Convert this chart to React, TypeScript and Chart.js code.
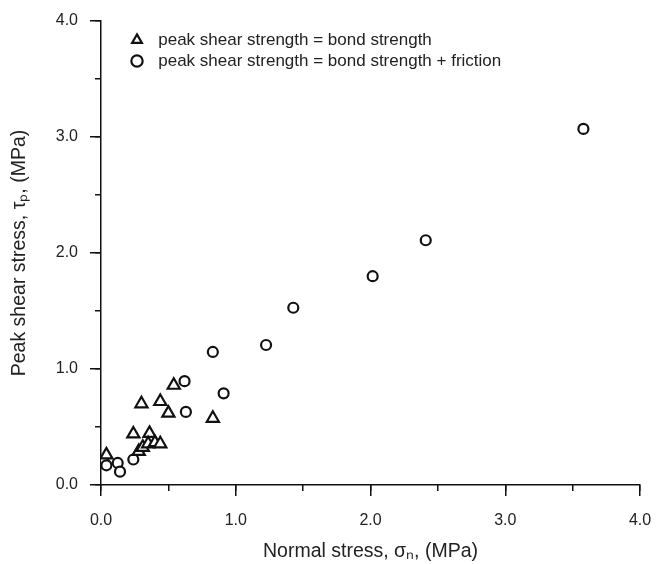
import React, { useEffect, useRef } from 'react';
import { Chart, registerables } from 'chart.js';

Chart.register(...registerables);

// Series: peak shear strength = bond strength (triangles)
const bondX = [0.04, 0.24, 0.36, 0.28, 0.31, 0.35, 0.40, 0.44, 0.30, 0.44, 0.50, 0.54, 0.83];
const bondY = [0.26, 0.44, 0.445, 0.29, 0.325, 0.355, 0.365, 0.355, 0.70, 0.72, 0.62, 0.86, 0.575];

// Series: peak shear strength = bond strength + friction (circles)
const fricX = [0.02, 0.04, 0.124, 0.141, 0.24, 0.63, 0.62, 0.91, 0.83, 1.225, 1.427, 2.016, 2.41, 3.58];
const fricY = [0.2, 0.17, 0.19, 0.115, 0.22, 0.63, 0.895, 0.79, 1.147, 1.207, 1.528, 1.80, 2.11, 3.07];

const seriesLabels = [
  'peak shear strength = bond strength',
  'peak shear strength = bond strength + friction',
];
const xTitle = 'Normal stress, σₙ, (MPa)';
const yTitle = 'Peak shear stress, τₚ, (MPa)';
const axisMin = 0;
const axisMax = 4;
const majorStep = 1;
const minorStep = 0.5;

const FONT = "'Liberation Sans', Arial, Helvetica, sans-serif";
const INK = '#111';
const TEXT = '#222';

export default function App() {
  const ref = useRef<HTMLCanvasElement | null>(null);

  useEffect(() => {
    if (!ref.current) return;
    const toPts = (xs: number[], ys: number[]) => xs.map((x, i) => ({ x, y: ys[i] }));

    const legendPlacer = {
      id: 'legendPlacer',
      afterLayout(chart: any) {
        const lg = chart.legend;
        if (!lg) return;
        const w = lg.width;
        const h = lg.height;
        lg.left = chart.chartArea.left + 24;
        lg.right = lg.left + w;
        lg.top = chart.chartArea.top + 6.5;
        lg.bottom = lg.top + h;
      },
    };

    const chart = new Chart(ref.current, {
      type: 'scatter',
      data: {
        datasets: [
          {
            label: seriesLabels[0],
            data: toPts(bondX, bondY),
            pointStyle: 'triangle',
            pointRadius: 7,
            pointBorderWidth: 2.2,
            borderWidth: 2.2,
            backgroundColor: '#fff',
            borderColor: INK,
            xAxisID: 'x',
            yAxisID: 'y',
          },
          {
            label: seriesLabels[1],
            data: toPts(fricX, fricY),
            pointStyle: 'circle',
            pointRadius: 5,
            pointBorderWidth: 2.2,
            borderWidth: 2.2,
            backgroundColor: '#fff',
            borderColor: INK,
            xAxisID: 'x',
            yAxisID: 'y',
          },
        ],
      },
      options: {
        animation: false,
        responsive: false,
        layout: { padding: { top: 21, right: 17, left: 0, bottom: 0 } },
        plugins: {
          tooltip: { enabled: false },
          legend: {
            position: 'chartArea',
            align: 'start',
            labels: {
              usePointStyle: true,
              boxWidth: 16,
              boxHeight: 8,
              padding: 4,
              color: TEXT,
              font: { family: FONT, size: 17 },
              generateLabels(chart: any) {
                const items = Chart.defaults.plugins.legend.labels.generateLabels(chart);
                return items.map((it: any) => ({ ...it, text: ' ' + it.text }));
              },
            },
          },
        },
        scales: {
          x: {
            type: 'linear',
            position: 'bottom',
            min: axisMin,
            max: axisMax,
            afterFit(scale: any) {
              scale.height = 79;
              scale.paddingLeft = 0;
              scale.paddingRight = 0;
            },
            ticks: {
              stepSize: majorStep,
              padding: 15,
              color: TEXT,
              font: { family: FONT, size: 16 },
              callback: (v: any) => Number(v).toFixed(1),
            },
            grid: { drawOnChartArea: false, tickLength: 11, color: INK, lineWidth: 1.5 },
            border: { color: INK, width: 1.5 },
            title: {
              display: true,
              text: xTitle,
              color: TEXT,
              font: { family: FONT, size: 19.5 },
              padding: { top: 0, bottom: 1 },
            },
          },
          y: {
            type: 'linear',
            position: 'left',
            min: axisMin,
            max: axisMax,
            afterFit(scale: any) {
              scale.width = 101;
              scale.paddingTop = 0;
              scale.paddingBottom = 0;
            },
            ticks: {
              stepSize: majorStep,
              padding: 12,
              color: TEXT,
              font: { family: FONT, size: 16 },
              callback: (v: any) => Number(v).toFixed(1),
            },
            grid: { drawOnChartArea: false, tickLength: 11, color: INK, lineWidth: 1.5 },
            border: { color: INK, width: 1.5 },
            title: {
              display: true,
              text: yTitle,
              color: TEXT,
              font: { family: FONT, size: 19.5 },
              padding: { top: 8, bottom: 0 },
            },
          },
          xm: {
            type: 'linear',
            position: { y: 0 } as any,
            min: axisMin,
            max: axisMax,
            ticks: { stepSize: minorStep, display: false },
            grid: { drawOnChartArea: false, tickLength: 6, color: INK, lineWidth: 1.5 },
            border: { display: false },
          },
          ym: {
            type: 'linear',
            position: { x: 0 } as any,
            min: axisMin,
            max: axisMax,
            ticks: { stepSize: minorStep, display: false },
            grid: { drawOnChartArea: false, tickLength: 6, color: INK, lineWidth: 1.5 },
            border: { display: false },
          },
        },
      } as any,
      plugins: [legendPlacer],
    });
    return () => chart.destroy();
  }, []);

  return (
    <div style={{ position: 'fixed', left: 0, top: 0, width: 657, height: 564, background: '#fff' }}>
      <canvas ref={ref} width={657} height={564} />
    </div>
  );
}
